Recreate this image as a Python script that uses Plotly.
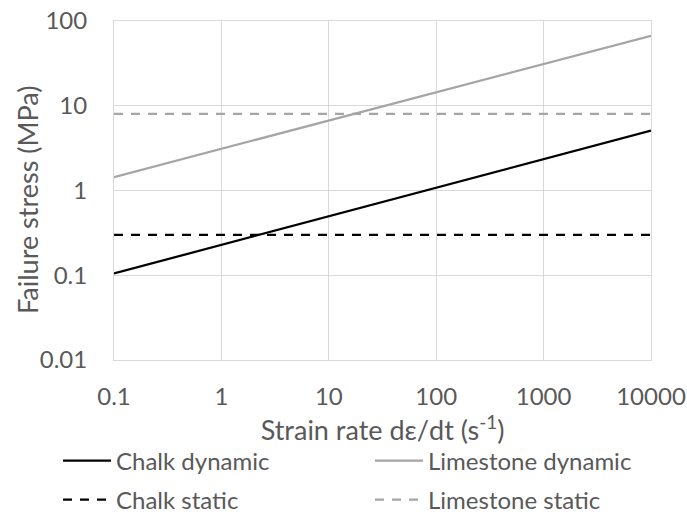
import plotly.graph_objects as go

x_rate = [0.1, 10000]
chalk_dynamic = [0.105, 5.1]
limestone_dynamic = [1.44, 67]
chalk_static = [0.3, 0.3]
limestone_static = [8, 8]

x_ticks = [0.1, 1, 10, 100, 1000, 10000]
x_ticklabels = ["0.1", "1", "10", "100", "1000", "10000"]
y_ticks = [0.01, 0.1, 1, 10, 100]
y_ticklabels = ["0.01", "0.1", "1", "10", "100"]

FONT = "Lato, 'Open Sans', sans-serif"
TXT = "#595959"
DASH = "9px,8px"

fig = go.Figure()
fig.add_trace(go.Scatter(x=x_rate, y=chalk_dynamic, mode="lines", name="Chalk dynamic",
                         line=dict(color="#000000", width=2.25), legend="legend"))
fig.add_trace(go.Scatter(x=x_rate, y=limestone_dynamic, mode="lines", name="Limestone dynamic",
                         line=dict(color="#a5a5a5", width=2.25), legend="legend2"))
fig.add_trace(go.Scatter(x=x_rate, y=chalk_static, mode="lines", name="Chalk static",
                         line=dict(color="#000000", width=2.25, dash=DASH), legend="legend3"))
fig.add_trace(go.Scatter(x=x_rate, y=limestone_static, mode="lines", name="Limestone static",
                         line=dict(color="#a5a5a5", width=2.25, dash=DASH), legend="legend4"))

PH = 339.0
PW = 537.0
leg_common = dict(orientation="v", xanchor="left", yanchor="middle",
                  xref="paper", yref="paper",
                  font=dict(size=24, color=TXT, family=FONT),
                  itemwidth=48, bgcolor="rgba(0,0,0,0)")
X1 = (58 - 114) / PW
X2 = (370 - 114) / PW
Y1 = (360 - 461) / PH
Y2 = (360 - 500) / PH

fig.update_layout(
    width=687, height=515,
    margin=dict(l=114, r=36, t=21, b=155, autoexpand=False),
    paper_bgcolor="white", plot_bgcolor="white",
    font=dict(family=FONT, color=TXT, size=24),
    showlegend=True,
    legend=dict(leg_common, x=X1, y=Y1),
    legend2=dict(leg_common, x=X2, y=Y1),
    legend3=dict(leg_common, x=X1, y=Y2),
    legend4=dict(leg_common, x=X2, y=Y2),
    xaxis=dict(type="log", range=[-1, 4], tickvals=x_ticks, ticktext=x_ticklabels,
               showgrid=True, gridcolor="#d9d9d9", gridwidth=1,
               showline=True, linecolor="#d9d9d9", linewidth=1, mirror=True,
               ticks="outside", ticklen=15, tickcolor="rgba(0,0,0,0)",
               tickfont=dict(size=24, color=TXT),
               title=dict(text="Strain rate dε/dt (s<sup>-1</sup>)", standoff=3,
                          font=dict(size=27, color=TXT)),
               zeroline=False, automargin=False),
    yaxis=dict(type="log", range=[-2, 2], tickvals=y_ticks, ticktext=y_ticklabels,
               showgrid=True, gridcolor="#d9d9d9", gridwidth=1,
               showline=True, linecolor="#d9d9d9", linewidth=1, mirror=True,
               ticks="outside", ticklen=21, tickcolor="rgba(0,0,0,0)",
               tickfont=dict(size=24, color=TXT),
               zeroline=False, automargin=False),
    annotations=[dict(text="Failure stress (MPa)", textangle=-90,
                      x=(27 - 114) / PW, y=(360 - 200) / PH, xref="paper", yref="paper",
                      xanchor="center", yanchor="middle", showarrow=False,
                      font=dict(size=27, color=TXT, family=FONT))],
)

fig.write_html("out.html", post_script="document.body.style.margin='0';",
               config={"displayModeBar": False})
